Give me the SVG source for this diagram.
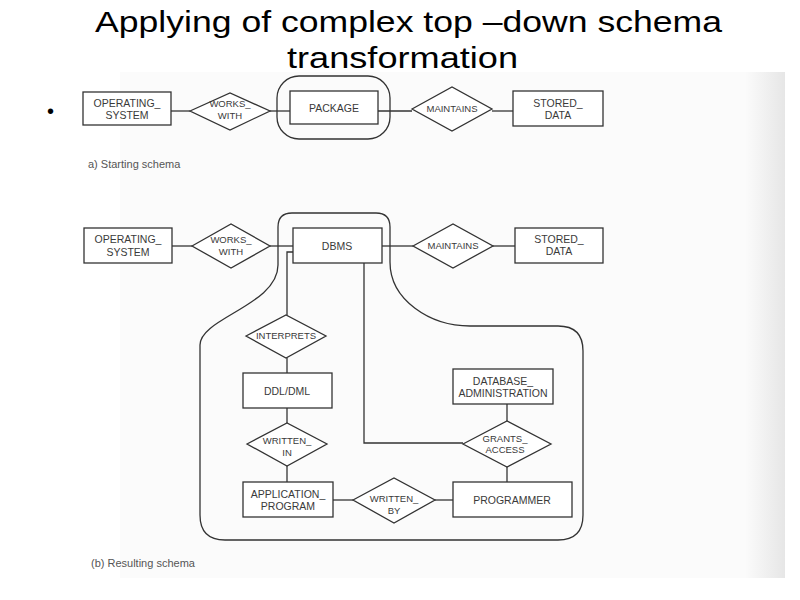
<svg xmlns="http://www.w3.org/2000/svg" width="800" height="600" viewBox="0 0 800 600">
<defs>
<linearGradient id="edge" x1="0" y1="0" x2="1" y2="0">
<stop offset="0" stop-color="#fbfbfb"/>
<stop offset="1" stop-color="#e6e6e6"/>
</linearGradient>
<style>
.title{font-family:"Liberation Sans",Arial,sans-serif;font-size:29px;fill:#000}
.box{fill:#fff;stroke:#333;stroke-width:1.3}
.dia{fill:#fff;stroke:#333;stroke-width:1.3}
.wrap{fill:none;stroke:#333;stroke-width:1.3}
.lbl{font-family:"Liberation Sans",Arial,sans-serif;font-size:10.5px;fill:#3a3a3a;text-anchor:middle}
.sm{font-size:9.5px}
.cap{font-family:"Liberation Sans",Arial,sans-serif;font-size:11px;fill:#555}
#connectors line,#connectors polyline{stroke:#333;stroke-width:1.3;fill:none}
</style>
</defs>
<rect width="800" height="600" fill="#fff"/>
<rect x="120" y="72" width="665" height="506" fill="#fbfbfb"/>
<rect x="745" y="72" width="40" height="506" fill="url(#edge)"/>

<text class="title" x="95" y="32" textLength="627" lengthAdjust="spacingAndGlyphs">Applying of complex top –down schema</text>
<text class="title" x="287" y="68" textLength="231" lengthAdjust="spacingAndGlyphs">transformation</text>
<text x="47" y="118" font-family="Liberation Sans,Arial,sans-serif" font-size="20" fill="#000">•</text>

<g id="connectors">
<line x1="171" y1="111" x2="190" y2="111"/>
<line x1="270" y1="111" x2="290" y2="111"/>
<line x1="378" y1="111" x2="412" y2="111"/>
<line x1="492" y1="111" x2="513" y2="111"/>
<line x1="172" y1="246" x2="192" y2="246"/>
<line x1="270" y1="246" x2="293" y2="246"/>
<line x1="382" y1="246" x2="413" y2="246"/>
<line x1="493" y1="246" x2="515" y2="246"/>
<polyline points="293,252 287,252 287,315"/>
<line x1="287" y1="358" x2="287" y2="373"/>
<line x1="287" y1="408" x2="287" y2="423"/>
<line x1="287" y1="466" x2="287" y2="482"/>
<line x1="333" y1="500" x2="353" y2="500"/>
<line x1="435" y1="500" x2="453" y2="500"/>
<polyline points="364,263 364,443 463,443"/>
<line x1="507" y1="404" x2="507" y2="421"/>
<line x1="507" y1="467" x2="507" y2="482"/>
</g>

<g id="wrap-a"><rect class="wrap" x="277" y="76" width="113" height="63" rx="22"/></g>
<g id="wrap-b"><path class="wrap" d="M292,213 H376 Q390,213 390,227 V262 C390,300 430,326 470,326 H558 Q583,326 583,351 V515 Q583,540 558,540 H225 Q200,540 200,515 V345 C200,318 278,305 278,265 V227 Q278,213 292,213 Z"/></g>

<g id="a-operating-system"><rect class="box" x="83" y="92" width="88" height="33"/><text class="lbl" x="127" y="107">OPERATING_</text><text class="lbl" x="127" y="119">SYSTEM</text></g>
<g id="a-works-with"><polygon class="dia" points="190,111 230,93 270,111 230,130"/><text class="lbl sm" x="230" y="107">WORKS_</text><text class="lbl sm" x="230" y="119">WITH</text></g>
<g id="a-package"><rect class="box" x="290" y="91" width="88" height="33"/><text class="lbl" x="334" y="112">PACKAGE</text></g>
<g id="a-maintains"><polygon class="dia" points="412,109 452,87 492,109 452,131"/><text class="lbl sm" x="452" y="112">MAINTAINS</text></g>
<g id="a-stored-data"><rect class="box" x="513" y="91" width="90" height="35"/><text class="lbl" x="558" y="107">STORED_</text><text class="lbl" x="558" y="119">DATA</text></g>
<text class="cap" x="88" y="168">a) Starting schema</text>

<g id="b-operating-system"><rect class="box" x="84" y="228" width="88" height="35"/><text class="lbl" x="128" y="243">OPERATING_</text><text class="lbl" x="128" y="256">SYSTEM</text></g>
<g id="b-works-with"><polygon class="dia" points="192,246 231,224 270,246 231,268"/><text class="lbl sm" x="231" y="243">WORKS_</text><text class="lbl sm" x="231" y="255">WITH</text></g>
<g id="b-dbms"><rect class="box" x="293" y="228" width="89" height="35"/><text class="lbl" x="337" y="250">DBMS</text></g>
<g id="b-maintains"><polygon class="dia" points="413,246 453,224 493,246 453,268"/><text class="lbl sm" x="453" y="249">MAINTAINS</text></g>
<g id="b-stored-data"><rect class="box" x="515" y="228" width="88" height="35"/><text class="lbl" x="559" y="243">STORED_</text><text class="lbl" x="559" y="255">DATA</text></g>
<g id="b-interprets"><polygon class="dia" points="246,336 286,315 326,336 286,358"/><text class="lbl sm" x="286" y="339">INTERPRETS</text></g>
<g id="b-ddl-dml"><rect class="box" x="243" y="373" width="89" height="35"/><text class="lbl" x="287" y="395">DDL/DML</text></g>
<g id="b-written-in"><polygon class="dia" points="247,444 287,423 327,444 287,466"/><text class="lbl sm" x="287" y="444">WRITTEN_</text><text class="lbl sm" x="287" y="456">IN</text></g>
<g id="b-application-program"><rect class="box" x="243" y="482" width="90" height="35"/><text class="lbl" x="288" y="498">APPLICATION_</text><text class="lbl" x="288" y="510">PROGRAM</text></g>
<g id="b-written-by"><polygon class="dia" points="353,500 394,478 435,500 394,523"/><text class="lbl sm" x="394" y="502">WRITTEN_</text><text class="lbl sm" x="394" y="514">BY</text></g>
<g id="b-programmer"><rect class="box" x="453" y="482" width="119" height="35"/><text class="lbl" x="512" y="504">PROGRAMMER</text></g>
<g id="b-database-administration"><rect class="box" x="453" y="369" width="100" height="35"/><text class="lbl" x="503" y="385">DATABASE_</text><text class="lbl" x="503" y="397">ADMINISTRATION</text></g>
<g id="b-grants-access"><polygon class="dia" points="463,444 507,421 551,444 507,467"/><text class="lbl sm" x="505" y="442">GRANTS_</text><text class="lbl sm" x="505" y="453">ACCESS</text></g>
<text class="cap" x="91" y="567">(b) Resulting schema</text>
</svg>
